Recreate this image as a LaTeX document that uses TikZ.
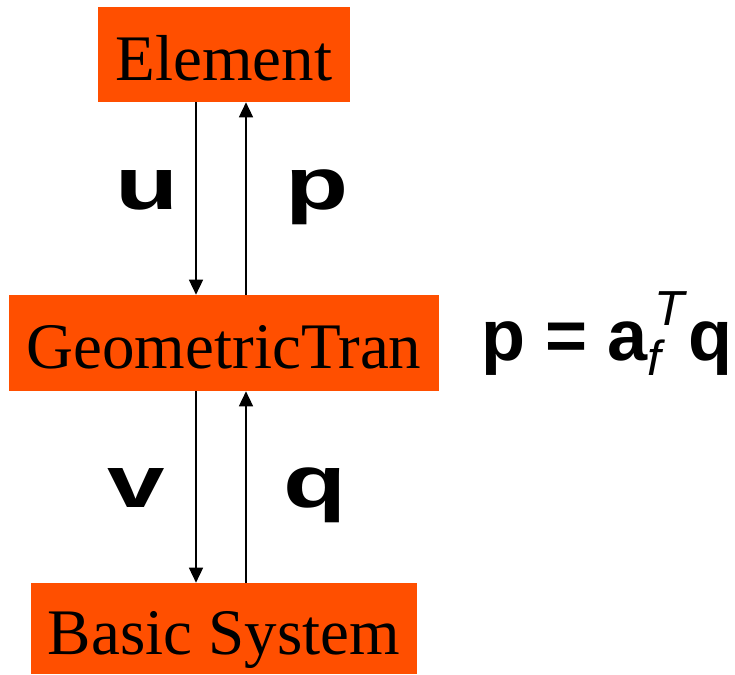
\documentclass[tikz,border=0pt]{standalone}
\usepackage{fontspec}
\setmainfont{Liberation Serif}
\newfontfamily\labelsans{Liberation Sans}
\usepackage{xcolor}
\definecolor{blkorange}{RGB}{255, 79, 0}
\usepackage{tikz}
\usetikzlibrary{arrows.meta, positioning}

\begin{document}
\begin{tikzpicture}[x=0.02cm, y=-0.02cm,
    block/.style={fill=blkorange, inner sep=0pt, text height=1.04cm, text depth=0pt,
      font=\fontsize{37}{40}\selectfont},
    flow/.style={-{Triangle[width=8pt, length=8.5pt]}, line width=0.7pt},
    varlbl/.style={anchor=base, inner sep=0pt,
      font=\labelsans\bfseries\fontsize{42}{44}\selectfont}]
  \useasboundingbox (0,0) rectangle (735,675);

  % the three blocks
  \node[block, minimum width=5.04cm, minimum height=1.9cm] (elem) at (224,54.5) {Element};
  \node[block, minimum width=8.6cm, minimum height=1.92cm] (geom) at (224,343) {GeometricTran};
  \node[block, minimum width=7.72cm, minimum height=1.82cm] (basic) at (224,628.5) {Basic System};

  % down and up
  \draw[flow] ([xshift=-0.56cm]elem.south) -- ([xshift=-0.56cm]geom.north);
  \draw[flow] ([xshift=0.44cm]geom.north) -- ([xshift=0.44cm]elem.south);
  \draw[flow] ([xshift=-0.56cm]geom.south) -- ([xshift=-0.56cm]basic.north);
  \draw[flow] ([xshift=0.44cm]basic.north) -- ([xshift=0.44cm]geom.south);

  \node[varlbl] (u) at (147,210) {\scalebox{1.4}[1]{u}};
  \node[varlbl] (p) at (317,210) {\scalebox{1.4}[1]{p}};
  \node[varlbl] (v) at (136,508) {\scalebox{1.4}[1]{v}};
  \node[varlbl] (q) at (315,508) {\scalebox{1.4}[1]{q}};

  \node[anchor=base west, inner sep=0pt, font=\labelsans\fontsize{41}{44}\selectfont] (eqn) at (481,361)
    {\textbf{p} \textbf{=} \textbf{a}\rlap{\hspace{3.5pt}\raisebox{0.72cm}{\fontsize{28}{30}\selectfont\itshape T}}\raisebox{-0.3cm}{\fontsize{28}{30}\selectfont\itshape f}\hspace{4pt} \textbf{q}};
\end{tikzpicture}
\end{document}
